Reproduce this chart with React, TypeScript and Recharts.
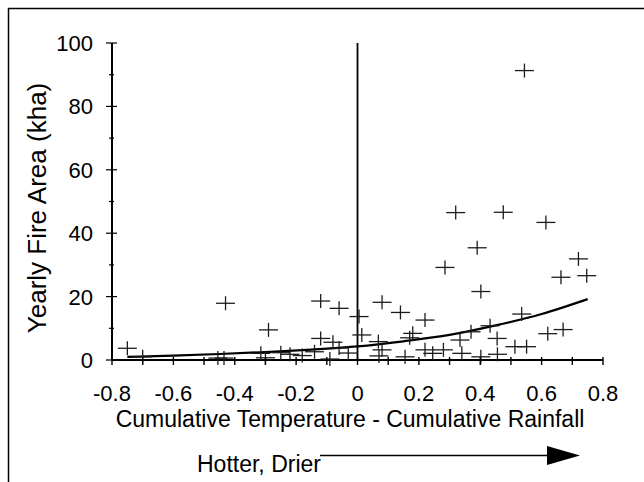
import { ComposedChart, Line, ReferenceLine, Scatter, XAxis, YAxis } from "recharts";

// scatter of yearly fire area vs (cumulative temperature - cumulative rainfall)
const fireX = [
  -0.75, -0.7, -0.455, -0.435, -0.43, -0.29, -0.315, -0.3, -0.25, -0.22, -0.18, -0.14, -0.12, -0.06,
  -0.12, -0.08, -0.09, -0.06, -0.03, 0.005, 0.014, 0.068, 0.08, 0.07, 0.08, 0.14, 0.22, 0.18, 0.17,
  0.155, 0.22, 0.245, 0.28, 0.285, 0.32, 0.334, 0.34, 0.37, 0.39, 0.402, 0.402, 0.432, 0.455, 0.456,
  0.475, 0.513, 0.551, 0.535, 0.544, 0.614, 0.62, 0.67, 0.663, 0.72, 0.747,
];
const fireArea = [
  3.7, 1.0, 0.6, 0.6, 17.9, 9.5, 2.1, 0.7, 2.3, 1.8, 1.4, 2.6, 18.6, 16.3,
  6.8, 5.6, 0.3, 3.8, 2.2, 13.7, 7.9, 5.8, 3.2, 1.3, 18.2, 15.0, 12.6, 8.4, 7.0,
  1.0, 3.2, 2.1, 3.2, 29.2, 46.5, 6.3, 2.1, 8.9, 35.4, 21.6, 1.0, 10.8, 6.8, 1.8,
  46.6, 4.2, 4.2, 14.5, 91.3, 43.4, 8.3, 9.6, 26.1, 31.9, 26.6,
];

// fitted exponential curve
const fitX = [-0.75, -0.6, -0.45, -0.3, -0.15, 0, 0.15, 0.3, 0.45, 0.6, 0.75];
const fitY = [1.0, 1.4, 1.9, 2.5, 3.3, 4.3, 5.9, 7.9, 10.9, 14.5, 19.2];

const xTicks = [-0.8, -0.7, -0.6, -0.5, -0.4, -0.3, -0.2, -0.1, 0, 0.1, 0.2, 0.3, 0.4, 0.5, 0.6, 0.7, 0.8];
const xTickLabels = ["-0.8", "-0.6", "-0.4", "-0.2", "0", "0.2", "0.4", "0.6", "0.8"];
const yTicks = [0, 10, 20, 30, 40, 50, 60, 70, 80, 90, 100];
const yTickLabels = ["0", "20", "40", "60", "80", "100"];

const points = fireX.map((x, i) => ({ x, y: fireArea[i] }));
const fit = fitX.map((x, i) => ({ x, y: fitY[i] }));

const font = '"Liberation Sans", Arial, sans-serif';

function fmtX(v: number) {
  const r = Math.round(v * 10) / 10;
  return r === 0 ? "0" : String(r);
}

function XTick({ x, y, payload }: any) {
  const label = fmtX(payload.value);
  return (
    <g>
      <line x1={x} x2={x} y1={y - 3} y2={y + 5} stroke="#000" strokeWidth={1.4} />
      {xTickLabels.includes(label) && (
        <text x={x} y={y + 41} textAnchor="middle" fontSize={22} fontFamily={font} fill="#000">
          {label}
        </text>
      )}
    </g>
  );
}

function YTick({ x, y, payload }: any) {
  const label = String(payload.value);
  const major = yTickLabels.includes(label);
  return (
    <g>
      <line x1={major ? x - 6 : x - 3} x2={major ? x + 5 : x + 2} y1={y} y2={y} stroke="#000" strokeWidth={1.2} />
      {major && (
        <text x={x - 19} y={y + 8} textAnchor="end" fontSize={22} fontFamily={font} fill="#000">
          {label}
        </text>
      )}
    </g>
  );
}

function PlusMark({ cx, cy }: any) {
  if (cx == null || cy == null) return null;
  return (
    <g stroke="#1c1c1c" strokeWidth={1.3}>
      <line x1={cx - 9.5} x2={cx + 9.5} y1={cy} y2={cy} />
      <line x1={cx} x2={cx} y1={cy - 7} y2={cy + 7} />
    </g>
  );
}

export default function App() {
  return (
    <div style={{ position: "absolute", left: 0, top: 0, width: 644, height: 482, background: "#fff" }}>
      <ComposedChart width={644} height={482} margin={{ top: 43, right: 41, bottom: 0, left: 0 }}>
        <XAxis
          type="number"
          dataKey="x"
          domain={[-0.8, 0.8]}
          ticks={xTicks}
          interval={0}
          height={122}
          tickSize={0}
          tickMargin={0}
          tick={<XTick />}
          axisLine={{ stroke: "#000", strokeWidth: 2 }}
          tickLine={false}
          allowDataOverflow
        />
        <YAxis
          type="number"
          domain={[0, 100]}
          ticks={yTicks}
          interval={0}
          width={112}
          tickSize={0}
          tickMargin={0}
          tick={<YTick />}
          axisLine={{ stroke: "#000", strokeWidth: 2 }}
          tickLine={false}
        />
        <ReferenceLine x={0} stroke="#000" strokeWidth={1.8} />
        <Scatter data={points} dataKey="y" shape={<PlusMark />} isAnimationActive={false} />
        <Line
          data={fit}
          dataKey="y"
          type="monotone"
          stroke="#000"
          strokeWidth={2.2}
          dot={false}
          activeDot={false}
          isAnimationActive={false}
        />
      </ComposedChart>
      <svg width={644} height={482} style={{ position: "absolute", left: 0, top: 0, pointerEvents: "none" }}>
        <line x1={8.5} x2={8.5} y1={8} y2={482} stroke="#000" strokeWidth={1.5} />
        <line x1={8} x2={644} y1={8.5} y2={8.5} stroke="#000" strokeWidth={1.5} />
        <text
          transform="translate(46,208) rotate(-90)"
          textAnchor="middle"
          fontSize={26}
          fontFamily={font}
          fill="#000"
        >
          Yearly Fire Area (kha)
        </text>
        <text x={350} y={427} textAnchor="middle" fontSize={23} fontFamily={font} fill="#000">
          Cumulative Temperature - Cumulative Rainfall
        </text>
        <text x={197} y={472} fontSize={23} fontFamily={font} fill="#000">
          Hotter, Drier
        </text>
        <line x1={320} x2={550} y1={455.5} y2={455.5} stroke="#000" strokeWidth={1.3} />
        <polygon points="547,446 547,465 580,455.5" fill="#000" />
      </svg>
    </div>
  );
}
